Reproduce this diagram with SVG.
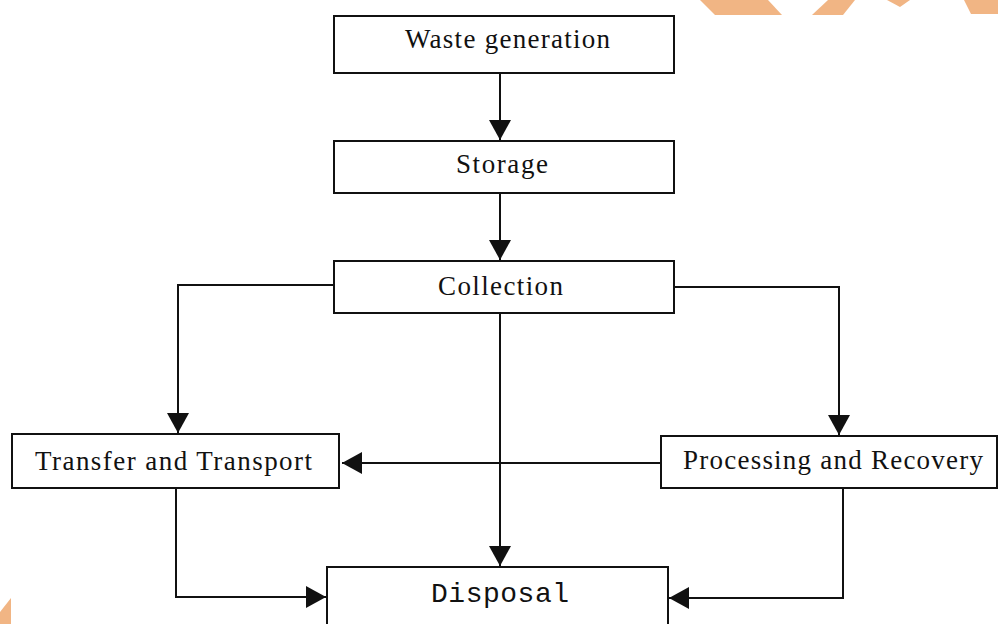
<svg xmlns="http://www.w3.org/2000/svg" width="998" height="624" viewBox="0 0 998 624">
<style>
.box{fill:#fff;stroke:#111;stroke-width:2}
.lbl{font-family:"Liberation Serif","Times New Roman",serif;font-size:27px;fill:#111}
.mono{font-family:"Liberation Mono","Courier New",monospace;font-size:28px;fill:#111}
.con{fill:none;stroke:#111;stroke-width:2}
.deco{fill:#F1B584}
</style>
<defs>
<marker id="arr" viewBox="0 0 20 22" refX="20" refY="11" markerWidth="20" markerHeight="22" markerUnits="userSpaceOnUse" orient="auto">
<path d="M0,0 L20,11 L0,22 z" fill="#111"/>
</marker>
</defs>
<rect width="998" height="624" fill="#fff"/>
<g id="decoration">
<polygon class="deco" points="700,0 768,0 782,15 715,15"/>
<polygon class="deco" points="828,0 855,0 843,15 812,15"/>
<polygon class="deco" points="887,0 910,0 900,7"/>
<polygon class="deco" points="964,0 998,0 998,14 971,14"/>
<polygon class="deco" points="0,612 11,598 11,624 0,624"/>
</g>
<g id="connectors">
<path class="con" d="M500,73 V140" marker-end="url(#arr)"/>
<path class="con" d="M500,193 V260" marker-end="url(#arr)"/>
<path class="con" d="M334,285 H178 V433" marker-end="url(#arr)"/>
<path class="con" d="M674,287 H839 V435" marker-end="url(#arr)"/>
<path class="con" d="M500,313 V566" marker-end="url(#arr)"/>
<path class="con" d="M661,463 H342" marker-end="url(#arr)"/>
<path class="con" d="M176,488 V597 H326" marker-end="url(#arr)"/>
<path class="con" d="M843,488 V598 H669" marker-end="url(#arr)"/>
</g>
<g id="waste-generation">
<rect class="box" x="334" y="16" width="340" height="57"/>
<text class="lbl" x="405" y="48" textLength="205" lengthAdjust="spacing">Waste generation</text>
</g>
<g id="storage">
<rect class="box" x="334" y="141" width="340" height="52"/>
<text class="lbl" x="456" y="173" textLength="92" lengthAdjust="spacing">Storage</text>
</g>
<g id="collection">
<rect class="box" x="334" y="261" width="340" height="52"/>
<text class="lbl" x="438" y="295" textLength="125" lengthAdjust="spacing">Collection</text>
</g>
<g id="transfer-transport">
<rect class="box" x="12" y="434" width="327" height="54"/>
<text class="lbl" x="35" y="470" textLength="277" lengthAdjust="spacing">Transfer and Transport</text>
</g>
<g id="processing-recovery">
<rect class="box" x="661" y="436" width="336" height="52"/>
<text class="lbl" x="683" y="469" textLength="300" lengthAdjust="spacing">Processing and Recovery</text>
</g>
<g id="disposal">
<rect class="box" x="327" y="567" width="341" height="70"/>
<text class="mono" x="431" y="602" textLength="138" lengthAdjust="spacing">Disposal</text>
</g>
</svg>
